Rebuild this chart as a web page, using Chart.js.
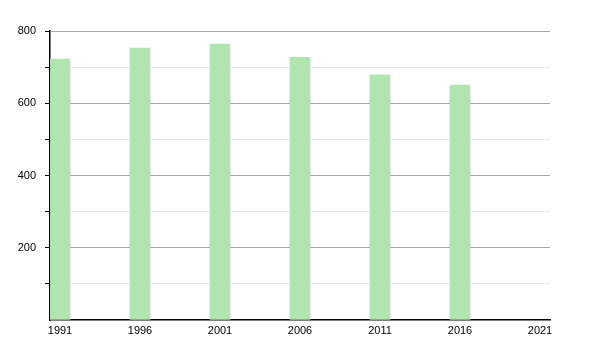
<!DOCTYPE html>
<html>
<head>
<meta charset="utf-8">
<script src="https://cdn.jsdelivr.net/npm/chart.js@4"></script>
<style>
  html, body { margin: 0; padding: 0; background: #fff; }
  #grafico { display: block; }
</style>
</head>
<body>
<canvas id="grafico" width="600" height="350"></canvas>
<script>
// dados
const anos = [1991, 1996, 2001, 2006, 2011, 2016];
const valores = [722, 753, 764, 727, 679, 650];
const anosTicks = [1991, 1996, 2001, 2006, 2011, 2016, 2021];
const valoresTicks = [0, 100, 200, 300, 400, 500, 600, 700, 800];

const DESLOC_BARRA = 0.625; // barra comeca no ano, nao centrada nele
const corBarra = '#b0e5b0';

const ctx = document.getElementById('grafico').getContext('2d');
const grafico = new Chart(ctx, {
    type: 'bar',
    data: {
        datasets: [{
            data: anos.map((a, i) => ({ x: a + DESLOC_BARRA, y: valores[i] })),
            backgroundColor: corBarra,
            borderWidth: 0,
            barThickness: 20
        }]
    },
    options: {
        responsive: false,
        animation: false,
        layout: { padding: { top: 31, right: 50, left: 0, bottom: 0 } },
        plugins: { legend: { display: false }, tooltip: { enabled: false } },
        scales: {
            x: {
                type: 'linear',
                offset: false,
                min: 1991,
                max: 2022.25,
                afterBuildTicks: s => { s.ticks = anosTicks.map(v => ({ value: v })); },
                afterFit: s => { s.height = 30; },
                grid: { display: false, drawTicks: false, offset: false },
                border: { display: true, color: '#000', width: 1.5 },
                ticks: {
                    labelOffset: 10,
                    padding: 4,
                    color: '#000',
                    font: { family: 'Liberation Sans', size: 11 },
                    callback: v => String(v),
                    maxRotation: 0,
                    autoSkip: false
                }
            },
            y: {
                min: 0,
                max: 800,
                afterBuildTicks: s => { s.ticks = valoresTicks.map(v => ({ value: v })); },
                afterFit: s => { s.width = 50; },
                grid: {
                    color: c => c.tick.value === 0 ? 'rgba(0,0,0,0)' : (c.tick.value % 200 === 0 ? '#aaaaaa' : '#e6e6e6'),
                    tickColor: c => c.tick.value === 0 ? 'rgba(0,0,0,0)' : '#000',
                    tickLength: 5,
                    lineWidth: 1
                },
                border: { display: true, color: '#000', width: 1.5 },
                ticks: {
                    padding: 9,
                    color: '#000',
                    font: { family: 'Liberation Sans', size: 11 },
                    callback: v => (v > 0 && v % 200 === 0) ? String(v) : ''
                }
            }
        }
    }
});
</script>
</body>
</html>
